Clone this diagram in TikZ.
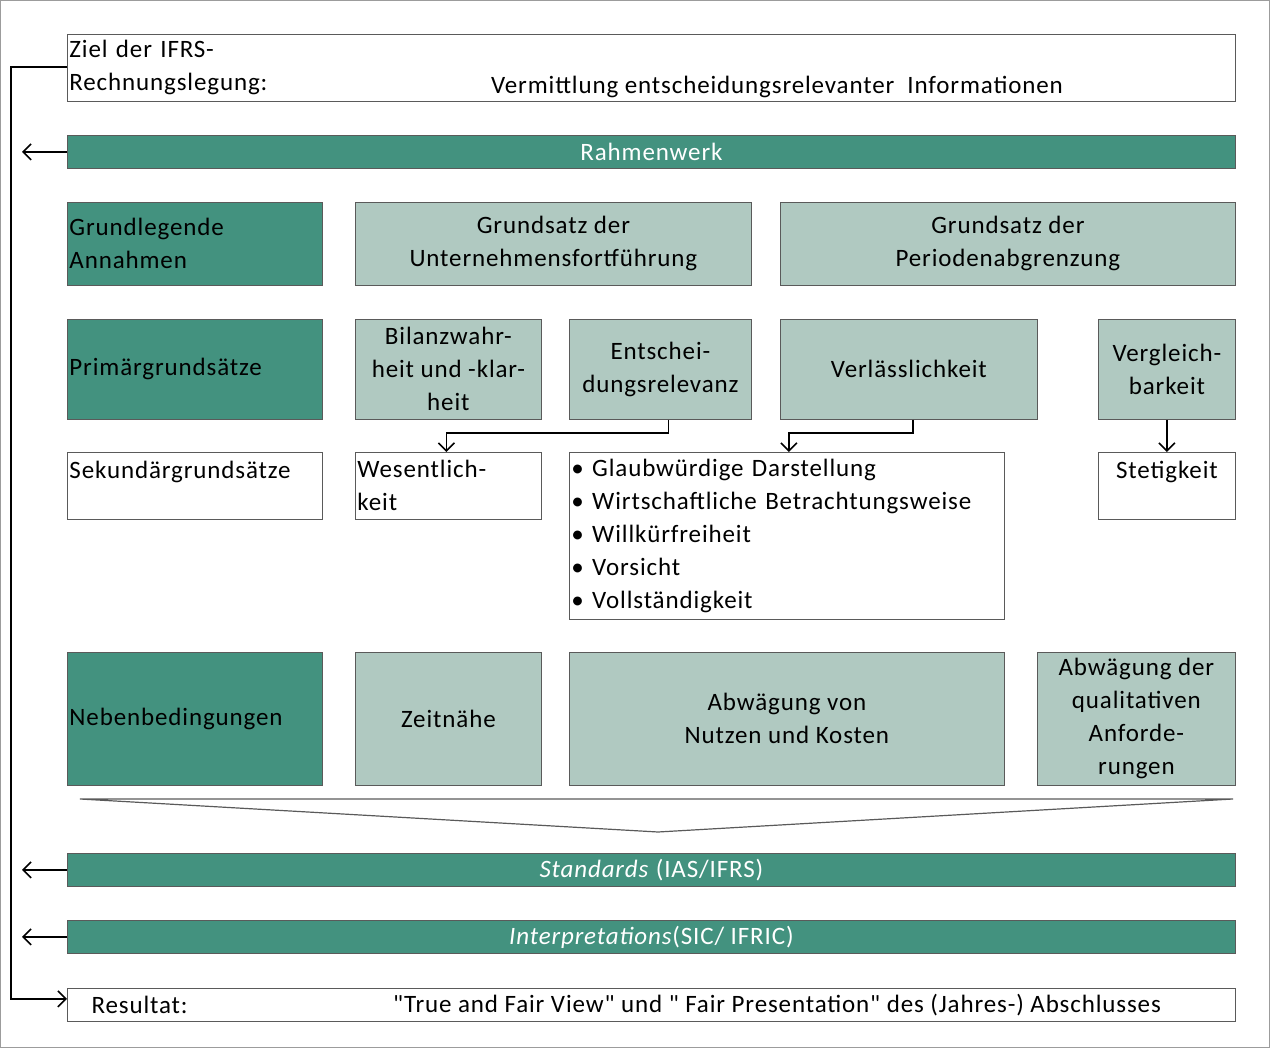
\documentclass[tikz,border=0pt]{standalone}
\usepackage{fontspec}
\setmainfont{Carlito}[Ligatures=TeXOff, LetterSpace=3.5]
\usetikzlibrary{arrows.meta}
\definecolor{gruen}{RGB}{67,146,127}
\definecolor{hellgruen}{RGB}{176,201,193}
\definecolor{rahmen}{RGB}{90,90,90}
\begin{document}
\begin{tikzpicture}[x=1pt,y=-1pt,
  every node/.style={font=\fontsize{25}{33}\selectfont},
  box/.style={draw=rahmen, line width=0.8pt, inner sep=1pt, anchor=north west, align=center},
  dunkel/.style={box, fill=gruen},
  hell/.style={box, fill=hellgruen},
  leer/.style={box, fill=white},
  balken/.style={dunkel, text=white, minimum width=1168pt, minimum height=33pt},
  pfeil/.style={-{Straight Barb[length=8pt,width=16pt]}, line width=1.6pt},
  ]
\useasboundingbox (0,0) rectangle (1270,1048);
\draw[rahmen!60, line width=1pt] (0.5,0.5) rectangle (1269.5,1047.5);

% Ziel
\node[leer, minimum width=1168pt, minimum height=67pt, text width=1164pt, align=left] (ziel) at (67,34) {Ziel der IFRS-\\Rechnungslegung:};
\node[anchor=base] (verm) at (777,94) {Vermittlung entscheidungsrelevanter\ \ Informationen};

% Rahmenwerk
\node[balken] (rw) at (67,135) {Rahmenwerk};

% Grundlegende Annahmen
\node[dunkel, minimum width=255pt, minimum height=83pt, text width=251pt, align=left] (ga) at (67,202) {Grundlegende\\Annahmen};
\node[hell, minimum width=396pt, minimum height=83pt] (uf) at (355,202) {Grundsatz der\\Unternehmensfortführung};
\node[hell, minimum width=455pt, minimum height=83pt] (pa) at (780,202) {Grundsatz der\\Periodenabgrenzung};

% Primaergrundsaetze
\node[dunkel, minimum width=255pt, minimum height=100pt, text width=251pt, align=left] (pg) at (67,319) {Primärgrundsätze};
\node[hell, minimum width=186pt, minimum height=100pt] (bil) at (355,319) {Bilanzwahr-\\heit und -klar-\\heit};
\node[hell, minimum width=182pt, minimum height=100pt] (ent) at (569,319) {Entschei-\\dungsrelevanz};
\node[hell, minimum width=257pt, minimum height=100pt] (ver) at (780,319) {Verlässlichkeit};
\node[hell, minimum width=137pt, minimum height=100pt] (vgl) at (1098,319) {Vergleich-\\barkeit};

% Sekundaergrundsaetze
\node[leer, minimum width=255pt, minimum height=67pt, text width=251pt, align=left] (sg) at (67,452) {Sekundärgrundsätze\\\mbox{}};
\node[leer, minimum width=186pt, minimum height=67pt, text width=182pt, align=left] (wes) at (355,452) {Wesentlich-\\keit};
\node[leer, minimum width=435pt, minimum height=167pt, text width=431pt, align=left] (liste) at (569,452) {%
  \textbullet\ Glaubwürdige Darstellung\\
  \textbullet\ Wirtschaftliche Betrachtungsweise\\
  \textbullet\ Willkürfreiheit\\
  \textbullet\ Vorsicht\\
  \textbullet\ Vollständigkeit};
\node[leer, minimum width=137pt, minimum height=67pt] (stet) at (1098,452) {Stetigkeit\\\mbox{}};

% Nebenbedingungen
\node[dunkel, minimum width=255pt, minimum height=133pt, text width=251pt, align=left] (nb) at (67,652) {Nebenbedingungen};
\node[hell, minimum width=186pt, minimum height=133pt] (zeit) at (355,652) {Zeitnähe};
\node[hell, minimum width=435pt, minimum height=133pt] (nuk) at (569,652) {Abwägung von\\Nutzen und Kosten};
\node[hell, minimum width=198pt, minimum height=133pt] (qa) at (1037,652) {Abwägung der\\qualitativen\\Anforde-\\rungen};

% Trichter
\draw[rahmen, line width=1.2pt] (80,799) -- (1233,799) -- (658,832) -- cycle;

% Standards und Interpretations
\node[balken] (std) at (67,853) {\textit{Standards} (IAS/IFRS)};
\node[balken] (int) at (67,920) {\textit{Interpretations}(SIC/ IFRIC)};

% Resultat
\node[leer, minimum width=1168pt, minimum height=33pt] (res) at (67,988) {};
\node[anchor=west] (resl) at (88,1005) {Resultat:};
\node (rest) at (777,1005) {"True and Fair View" und " Fair Presentation" des (Jahres-) Abschlusses};

% Pfeile
\coordinate (links) at (22,0);
\coordinate (rand) at (11,0);
\draw[pfeil] (rw.west) -- (rw.west -| links);
\draw[pfeil] (std.west) -- (std.west -| links);
\draw[pfeil] (int.west) -- (int.west -| links);
\draw[pfeil] ([yshift=1pt]ziel.west) -- ([yshift=1pt]ziel.west -| rand) -- ([yshift=6pt]res.west -| rand) -- ([yshift=6pt]res.west);
\draw[pfeil] ([xshift=8pt]ent.south) -- ++(0,13) -| ([xshift=-2pt]wes.north);
\draw[pfeil] ([xshift=4pt]ver.south) -- ++(0,13) -| ([xshift=2pt]liste.north);
\draw[pfeil] (vgl.south) -- (stet.north);
\end{tikzpicture}
\end{document}
